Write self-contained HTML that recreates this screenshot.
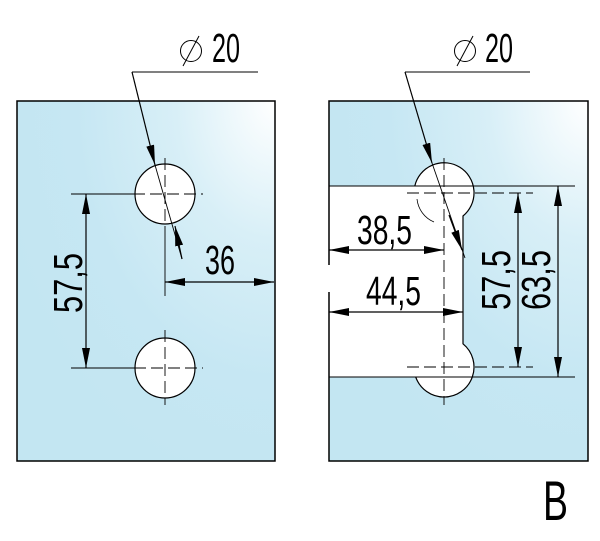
<!DOCTYPE html>
<html><head><style>
html,body{margin:0;padding:0;background:#fff;width:600px;height:541px;overflow:hidden}
text{font-family:"Liberation Sans",sans-serif;fill:#000}
</style></head><body>
<svg width="600" height="541" viewBox="0 0 600 541" xmlns="http://www.w3.org/2000/svg">
<defs>
<radialGradient id="g" cx="1" cy="0" r="1.1">
<stop offset="0" stop-color="#ffffff"/>
<stop offset="0.35" stop-color="#d8eff7"/>
<stop offset="0.7" stop-color="#c6e7f3"/>
<stop offset="1" stop-color="#c3e6f2"/>
</radialGradient>
<marker id="a" viewBox="0 0 20 8" refX="20" refY="4" markerWidth="20" markerHeight="8" markerUnits="userSpaceOnUse" orient="auto"><path d="M0,0 L20,4 L0,8z" fill="#000"/></marker>
</defs>
<g stroke="#000" stroke-width="1.2" fill="none">
<!-- left panel -->
<rect x="17" y="101" width="258" height="360" fill="url(#g)" stroke-width="1.5"/>
<circle cx="165" cy="194" r="30" fill="#fff"/>
<circle cx="165" cy="368" r="30" fill="#fff"/>
<g stroke-width="0.9" stroke-dasharray="12,5">
<line x1="133" y1="194" x2="203" y2="194"/><line x1="165" y1="158" x2="165" y2="230"/>
<line x1="134" y1="368" x2="203" y2="368"/><line x1="165" y1="330" x2="165" y2="405"/>
</g>
<line x1="71" y1="194" x2="135" y2="194" stroke-width="0.9"/>
<line x1="71" y1="368" x2="135" y2="368" stroke-width="0.9"/>
<line x1="86" y1="281" x2="86" y2="194" marker-end="url(#a)"/>
<line x1="86" y1="281" x2="86" y2="368" marker-end="url(#a)"/>
<line x1="165" y1="230" x2="165" y2="296" stroke-width="0.9"/>
<line x1="220" y1="282" x2="165" y2="282" marker-end="url(#a)"/>
<line x1="220" y1="282" x2="274" y2="282" marker-end="url(#a)"/>
<line x1="258" y1="72" x2="132" y2="72" stroke-width="0.9"/>
<line x1="132" y1="72" x2="155" y2="165" marker-end="url(#a)"/>
<line x1="155" y1="165" x2="182" y2="259" stroke-width="0.9"/>
<line x1="182" y1="259" x2="175" y2="226" marker-end="url(#a)"/>
<!-- right panel -->
<rect x="329" y="101" width="259" height="360" fill="url(#g)" stroke="none"/>
<path d="M329,186 H463 V377 H329 Z" fill="#fff" stroke="none"/>
<circle cx="444" cy="193" r="30" fill="#fff" stroke="none"/>
<circle cx="444" cy="367" r="30" fill="#fff" stroke="none"/>
<path d="M329,265 V101 H588 V461 H329 V292" stroke-width="1.5"/>
<path d="M414.8,186 A30,30 0 1 1 463,216 V343.8 A30,30 0 0 1 472.3,377" />
<path d="M415.7,377 A30,30 0 0 0 472.3,377"/>
<line x1="329" y1="186" x2="575" y2="186" stroke-width="0.9"/>
<line x1="329" y1="377" x2="575" y2="377" stroke-width="0.9"/>
<path d="M417,199 A28,28 0 0 0 434,222" stroke-width="0.8"/>
<g stroke-width="0.9" stroke-dasharray="12,5">
<line x1="407" y1="193" x2="533" y2="193"/><line x1="444" y1="158" x2="444" y2="405"/>
<line x1="407" y1="367" x2="533" y2="367"/>
</g>
<line x1="518" y1="280" x2="518" y2="193" marker-end="url(#a)"/>
<line x1="518" y1="280" x2="518" y2="367" marker-end="url(#a)"/>
<line x1="558" y1="280" x2="558" y2="186" marker-end="url(#a)"/>
<line x1="558" y1="280" x2="558" y2="377" marker-end="url(#a)"/>
<line x1="386" y1="250" x2="329" y2="250" marker-end="url(#a)"/>
<line x1="386" y1="250" x2="444" y2="250" marker-end="url(#a)"/>
<line x1="396" y1="312" x2="329" y2="312" marker-end="url(#a)"/>
<line x1="396" y1="312" x2="463" y2="312" marker-end="url(#a)"/>
<line x1="530" y1="72" x2="405" y2="72" stroke-width="0.9"/>
<line x1="405" y1="72" x2="432" y2="163" marker-end="url(#a)"/>
<line x1="432" y1="163" x2="465" y2="258" stroke-width="0.9"/>
<line x1="449" y1="215" x2="462" y2="250" marker-end="url(#a)"/>
<!-- diameter symbols -->
<circle cx="191" cy="51" r="10.5" stroke-width="1"/>
<line x1="183" y1="66" x2="199" y2="36" stroke-width="1"/>
<circle cx="465" cy="51" r="10.5" stroke-width="1"/>
<line x1="457" y1="66" x2="473" y2="36" stroke-width="1"/>
</g>
<g style="font-size:41px">
<text x="212" y="62" textLength="28" lengthAdjust="spacingAndGlyphs">20</text>
<text x="485" y="62" textLength="28" lengthAdjust="spacingAndGlyphs">20</text>
<text x="205" y="274" textLength="30" lengthAdjust="spacingAndGlyphs">36</text>
<text x="357" y="244" textLength="55" lengthAdjust="spacingAndGlyphs">38,5</text>
<text x="366" y="305" textLength="55" lengthAdjust="spacingAndGlyphs">44,5</text>
<text transform="translate(82,283) rotate(-90)" x="-30" y="0" textLength="60" lengthAdjust="spacingAndGlyphs">57,5</text>
<text transform="translate(510,280) rotate(-90)" x="-30" y="0" textLength="60" lengthAdjust="spacingAndGlyphs">57,5</text>
<text transform="translate(550,280) rotate(-90)" x="-30" y="0" textLength="60" lengthAdjust="spacingAndGlyphs">63,5</text>
</g>
<text x="543" y="520" style="font-size:56px" textLength="25" lengthAdjust="spacingAndGlyphs">B</text>
</svg>
</body></html>
